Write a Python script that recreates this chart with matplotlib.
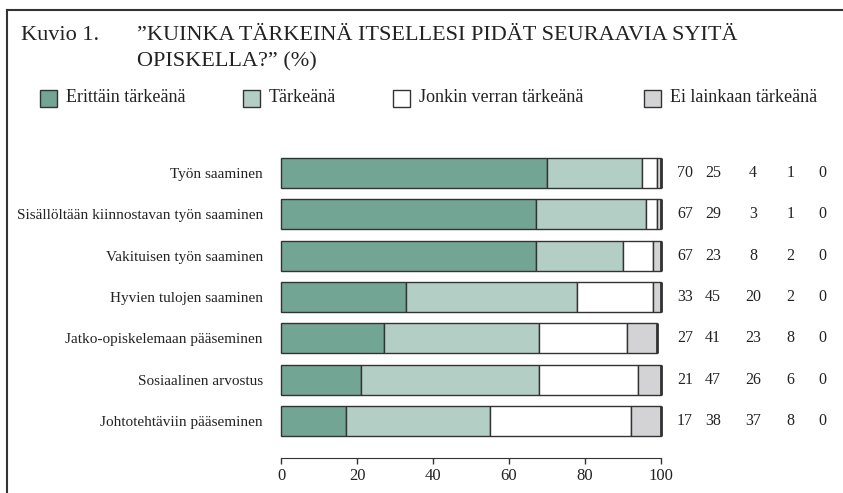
import matplotlib
matplotlib.use("Agg")
import matplotlib.pyplot as plt
from matplotlib.patches import Rectangle
import numpy as np

plt.rcParams['font.family'] = ['Liberation Serif', 'DejaVu Serif']

categories = [
    "Työn saaminen",
    "Sisällöltään kiinnostavan työn saaminen",
    "Vakituisen työn saaminen",
    "Hyvien tulojen saaminen",
    "Jatko-opiskelemaan pääseminen",
    "Sosiaalinen arvostus",
    "Johtotehtäviin pääseminen",
]
series_names = ["Erittäin tärkeänä", "Tärkeänä", "Jonkin verran tärkeänä", "Ei lainkaan tärkeänä"]
erittain = [70, 67, 67, 33, 27, 21, 17]
tarkea = [25, 29, 23, 45, 41, 47, 38]
jonkin = [4, 3, 8, 20, 23, 26, 37]
ei_lainkaan = [1, 1, 2, 2, 8, 6, 8]
muu = [0, 0, 0, 0, 0, 0, 0]
xticks = [0, 20, 40, 60, 80, 100]

colors = ["#72a593", "#b3cec4", "#ffffff", "#d3d3d5"]
edge = "#333333"
txt = "#222222"

W, H = 843, 493
fig = plt.figure(figsize=(W / 100, H / 100), dpi=100)

# axes placement in pixels
x0, x1 = 281, 661
ytop, ybot = 152.3, 458
ax = fig.add_axes([x0 / W, 1 - ybot / H, (x1 - x0) / W, (ybot - ytop) / H])

n = len(categories)
y = np.arange(n)
left = np.zeros(n)
series = [erittain, tarkea, jonkin, ei_lainkaan]
for vals, c in zip(series, colors):
    bars = ax.barh(y, vals, left=left, height=0.73, color=c, edgecolor=edge, linewidth=1.0)
    for b in bars:
        b.set_clip_on(False)
    left = left + np.array(vals)
# thin end segment (0 values)
bars = ax.barh(y, muu, left=left, height=0.73, color=edge, edgecolor=edge, linewidth=2.0)
for b in bars:
    b.set_clip_on(False)

ax.set_xlim(0, 100)
ax.set_ylim(6.895, -0.5)
ax.set_yticks(y)
ax.set_yticklabels(categories, fontsize=11, color=txt)
ax.tick_params(axis='y', length=0, pad=13)
ax.set_xticks(xticks)
ax.set_xticklabels([str(t) for t in xticks], fontsize=12, color=txt)
ax.tick_params(axis='x', direction='out', length=4, width=1, color=edge, pad=3)
for s in ['left', 'right', 'top']:
    ax.spines[s].set_visible(False)
ax.spines['bottom'].set_color(edge)

# number columns
col_x = [106.3, 113.7, 124.2, 134.0, 142.4]
for i in range(n):
    vals = [erittain[i], tarkea[i], jonkin[i], ei_lainkaan[i], muu[i]]
    for cx, v in zip(col_x, vals):
        ax.text(cx, i, str(v), ha='center', va='center', fontsize=11.5, color=txt, clip_on=False)

# title
fig.text(21 / W, 1 - 36 / H, "Kuvio 1.", fontsize=16, va='center', ha='left', color=txt)
fig.text(137 / W, 1 - 36 / H, "”KUINKA TÄRKEINÄ ITSELLESI PIDÄT SEURAAVIA SYITÄ", fontsize=16,
         va='center', ha='left', color=txt)
fig.text(137 / W, 1 - 62 / H, "OPISKELLA?” (%)", fontsize=16, va='center', ha='left', color=txt)

# legend
leg_x = [40, 243, 393, 644]
for lx, name, c in zip(leg_x, series_names, colors):
    fig.patches.append(Rectangle((lx / W, 1 - 107 / H), 17 / W, 17 / H, transform=fig.transFigure,
                                 facecolor=c, edgecolor=edge, linewidth=1.0))
    fig.text((lx + 26) / W, 1 - 98 / H, name, fontsize=13, va='center', ha='left', color=txt)

# frame
fig.add_artist(plt.Line2D([7 / W, 7 / W], [0, 1 - 10 / H], transform=fig.transFigure, color=edge, linewidth=1.5))
fig.add_artist(plt.Line2D([7 / W, 1], [1 - 10 / H, 1 - 10 / H], transform=fig.transFigure, color=edge, linewidth=1.5))

fig.savefig("out.png", dpi=100)
